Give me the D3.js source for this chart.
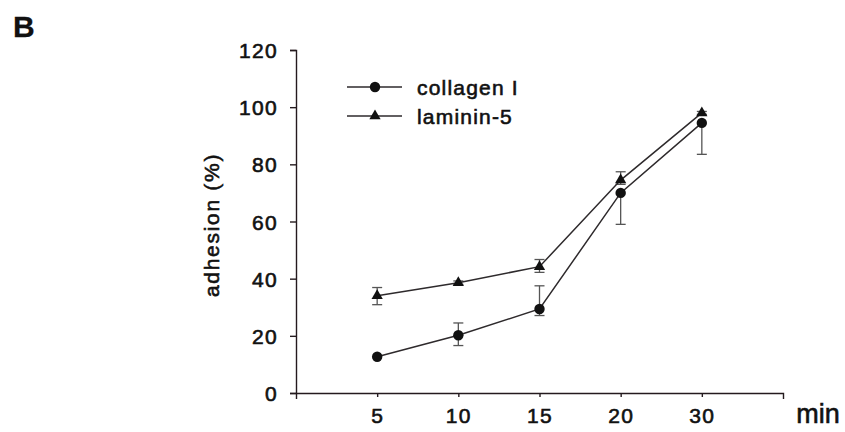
<!DOCTYPE html>
<html>
<head>
<meta charset="utf-8">
<script src="https://cdn.jsdelivr.net/npm/d3@7"></script>
<style>
  body { margin: 0; background: #fff; }
  svg { display: block; }
  text { font-family: "Liberation Sans", Arial, sans-serif; fill: #111; stroke: #111; stroke-width: 0.6px; }
  .axis path, .axis line { stroke: #241a1e; stroke-width: 1.4px; }
  .axis text { font-size: 21px; letter-spacing: 1.3px; }
  .series { fill: none; stroke: #2e2a2c; stroke-width: 1.5px; }
  .errbar { stroke: #555; stroke-width: 1.3px; }
</style>
</head>
<body>
<div class="container"></div>
<script>
(function(){

// time points (min), shown as evenly spaced categories
var times = [5, 10, 15, 20, 30];

// collagen I adhesion (%) with error bar ends
var collagenMean = [12.7, 20.2, 29.4, 70.0, 94.5];
var collagenLow  = [12.7, 16.6, 27.1, 59.0, 83.5];
var collagenHigh = [12.7, 24.5, 37.5, 70.0, 94.5];

// laminin-5 adhesion (%) with error bar ends
var lamininMean = [34.0, 38.6, 44.2, 74.5, 98.0];
var lamininLow  = [30.9, 38.0, 42.2, 73.0, 97.5];
var lamininHigh = [36.9, 39.2, 46.7, 77.4, 98.5];

var yTicks = [0, 20, 40, 60, 80, 100, 120];

var width = 845,
    height = 432;

var svg = d3.select(".container")
  .append("svg")
  .attr("width", width)
  .attr("height", height);

var x = d3.scaleLinear()
  .domain([0, times.length + 1])
  .range([296, 783]);

var y = d3.scaleLinear()
  .domain([0, 120])
  .range([393, 50]);

// axes
var yAxis = d3.axisLeft(y)
  .tickValues(yTicks)
  .tickSize(6)
  .tickSizeOuter(6)
  .tickPadding(12);

svg.append("g")
  .attr("class", "axis")
  .attr("transform", "translate(" + x(0) + ",0)")
  .call(yAxis)
  .call(function(g){ g.selectAll("text").attr("dy", "0.36em"); });

var xAxis = d3.axisBottom(x)
  .tickValues(d3.range(1, times.length + 1))
  .tickFormat(function(i){ return times[i - 1]; })
  .tickSize(4)
  .tickSizeOuter(6)
  .tickPadding(11);

svg.append("g")
  .attr("class", "axis")
  .attr("transform", "translate(0," + y(0) + ")")
  .call(xAxis);

svg.selectAll(".axis .domain").attr("fill", "none");

// labels
svg.append("text")
  .attr("x", 13)
  .attr("y", 37)
  .style("font-size", "30px")
  .style("font-weight", "bold")
  .style("stroke-width", "0.3px")
  .text("B");

svg.append("text")
  .attr("transform", "translate(219,225) rotate(-90)")
  .attr("text-anchor", "middle")
  .style("font-size", "21px")
  .style("letter-spacing", "1.7px")
  .text("adhesion (%)");

svg.append("text")
  .attr("x", 818)
  .attr("y", 423)
  .attr("text-anchor", "middle")
  .style("font-size", "27px")
  .text("min");

// series
var series = [
  {name: "collagen I", mean: collagenMean, low: collagenLow, high: collagenHigh, symbol: d3.symbolCircle, size: 85},
  {name: "laminin-5", mean: lamininMean, low: lamininLow, high: lamininHigh, symbol: d3.symbolTriangle, size: 55}
];

var line = d3.line()
  .x(function(d, i){ return x(i + 1); })
  .y(function(d){ return y(d); });

series.forEach(function(s){

  var pts = s.mean.map(function(m, i){
    return {i: i, mean: m, low: s.low[i], high: s.high[i]};
  });

  var bars = svg.append("g").selectAll("g")
    .data(pts)
    .enter()
    .append("g")
    .attr("class", "errbar");

  bars.append("line")
    .attr("x1", function(d){ return x(d.i + 1); })
    .attr("x2", function(d){ return x(d.i + 1); })
    .attr("y1", function(d){ return y(d.low); })
    .attr("y2", function(d){ return y(d.high); });

  ["low", "high"].forEach(function(k){
    bars.filter(function(d){ return d[k] != d.mean; })
      .append("line")
      .attr("x1", function(d){ return x(d.i + 1) - 5; })
      .attr("x2", function(d){ return x(d.i + 1) + 5; })
      .attr("y1", function(d){ return y(d[k]); })
      .attr("y2", function(d){ return y(d[k]); });
  });

  svg.append("path")
    .datum(s.mean)
    .attr("class", "series")
    .attr("d", line);

  svg.append("g").selectAll("path")
    .data(pts)
    .enter()
    .append("path")
    .attr("d", d3.symbol().type(s.symbol).size(s.size))
    .attr("transform", function(d){
      return "translate(" + x(d.i + 1) + "," + y(d.mean) + ")";
    })
    .attr("fill", "#111");
});

// legend
var legend = svg.append("g")
  .selectAll("g")
  .data(series)
  .enter()
  .append("g")
  .attr("transform", function(d, i){ return "translate(347," + (87 + i * 29) + ")"; });

legend.append("line")
  .attr("x1", 0)
  .attr("x2", 55)
  .attr("stroke", "#2e2a2c")
  .attr("stroke-width", 1.5);

legend.append("path")
  .attr("d", function(d){ return d3.symbol().type(d.symbol).size(d.size)(); })
  .attr("transform", "translate(28,0)")
  .attr("fill", "#111");

legend.append("text")
  .attr("x", 70)
  .attr("dy", "0.36em")
  .style("font-size", "21px")
  .style("letter-spacing", "1.2px")
  .text(function(d){ return d.name; });

})();
</script>
</body>
</html>
